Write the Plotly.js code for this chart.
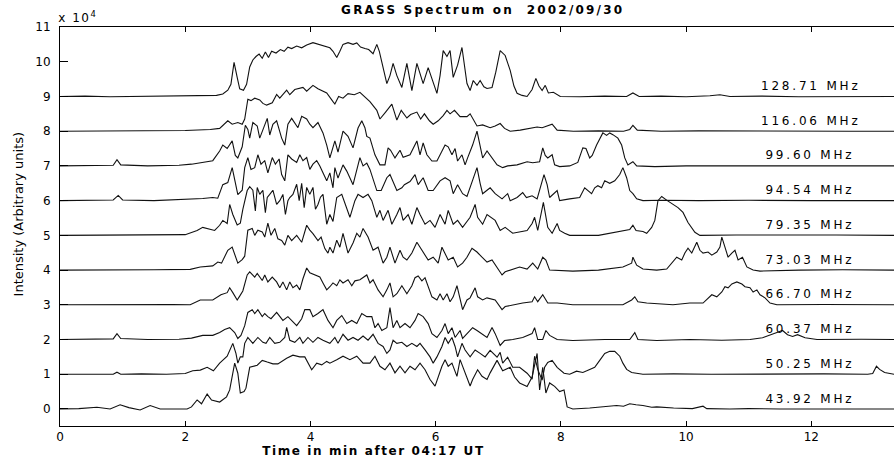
<!DOCTYPE html>
<html>
<head>
<meta charset="utf-8">
<script src="https://cdn.plot.ly/plotly-3.0.1.min.js"></script>
<style>html,body{margin:0;padding:0;background:#fff;}#chart{width:894px;height:459px;}</style>
</head>
<body>
<div id="chart"></div>
<script>
// Frequency channel labels (bottom to top) and their vertical offsets (x 10^4)
const channelLabels = ['43.92 MHz', '50.25 MHz', '60.37 MHz', '66.70 MHz', '73.03 MHz',
                       '79.35 MHz', '94.54 MHz', '99.60 MHz', '116.06 MHz', '128.71 MHz'];
const channelOffsets = [0, 1, 2, 3, 4, 5, 6, 7, 8, 9];

// Time (min after 04:17 UT) and intensity above baseline (x 10^4) per channel
const time4392 = [0,0.3,0.59,0.8,0.96,1.1,1.28,1.44,1.6,1.85,2.03,2.1,2.19,2.26,2.35,2.42,2.55,2.66,2.71,2.79,2.84,2.88,2.94,2.97,3.03,3.15,3.23,3.31,3.4,3.48,3.56,3.62,3.72,3.83,3.91,3.96,4.02,4.1,4.18,4.26,4.31,4.42,4.52,4.63,4.74,4.84,4.95,5.03,5.11,5.19,5.27,5.35,5.43,5.51,5.59,5.67,5.75,5.83,5.91,5.99,6.04,6.1,6.15,6.2,6.26,6.34,6.39,6.43,6.5,6.55,6.59,6.67,6.74,6.82,6.87,6.98,7.07,7.19,7.26,7.34,7.46,7.54,7.62,7.66,7.71,7.76,7.82,7.9,7.98,8.05,8.1,8.19,8.46,8.67,8.89,9.0,9.1,9.2,9.31,9.45,9.53,9.8,10.1,10.27,10.33,10.7,11.0,11.5,12.0,12.6,13.32];
const int4392 = [0,0.01,0.05,0.0,0.12,0.04,-0.03,0.1,0.0,0.01,0.0,0.06,0.26,0.15,0.43,0.26,0.2,0.35,0.55,1.32,1.03,0.46,0.5,0.6,1.2,1.26,1.4,1.35,1.3,1.3,1.4,1.46,1.55,1.5,1.5,1.32,1.13,1.32,1.27,1.37,1.32,1.42,1.52,1.42,1.52,1.32,1.32,1.52,1.23,1.13,1.32,1.04,1.23,1.04,1.23,1.13,1.32,1.13,0.85,0.66,0.94,1.23,1.42,1.23,1.32,0.94,1.42,1.23,0.85,0.66,0.85,1.13,0.94,0.85,1.04,1.4,1.1,1.2,0.92,0.75,0.65,0.92,1.6,0.55,1.2,0.46,0.75,0.65,0.5,0.55,0.06,0.0,0.03,0.06,0.1,0.08,0.15,0.12,0.1,0.05,0.06,0.03,0.01,0.08,0.01,0.0,0.01,0.0,0.01,0.0,0.0];

const time5025 = [0,0.4,0.85,0.91,0.97,1.3,1.7,2.0,2.12,2.24,2.35,2.45,2.55,2.67,2.72,2.76,2.81,2.84,2.88,2.92,2.95,3.0,3.08,3.16,3.24,3.29,3.35,3.43,3.51,3.59,3.62,3.67,3.75,3.83,3.88,3.96,4.04,4.12,4.2,4.31,4.39,4.44,4.52,4.6,4.68,4.76,4.84,4.92,5.0,5.08,5.16,5.22,5.27,5.32,5.38,5.46,5.54,5.62,5.7,5.75,5.83,5.91,5.96,6.02,6.1,6.15,6.2,6.26,6.31,6.35,6.42,6.47,6.55,6.63,6.71,6.79,6.87,6.98,7.03,7.07,7.15,7.23,7.34,7.46,7.54,7.58,7.63,7.7,7.74,7.79,7.86,7.94,8.05,8.14,8.25,8.35,8.46,8.54,8.62,8.7,8.78,8.86,8.94,8.99,9.05,9.13,9.31,9.8,10.4,11.0,11.6,12.2,12.9,12.98,13.04,13.09,13.17,13.32];
const int5025 = [0,0.01,0.0,0.06,0.0,0.01,0.0,0.02,0.1,0.12,0.2,0.1,0.32,0.52,0.7,0.89,0.6,0.32,0.5,0.5,0.89,1.06,0.89,1.06,0.92,0.89,1.06,0.89,0.92,1.06,1.35,0.98,0.92,1.06,0.89,1.06,0.92,1.06,0.98,0.89,1.06,0.89,1.15,0.98,1.06,0.98,1.1,0.98,1.15,0.89,0.8,0.6,0.7,0.98,0.89,0.92,0.8,0.89,0.8,0.89,0.7,0.5,0.32,0.5,0.8,1.06,0.89,1.06,0.8,0.5,0.89,0.7,0.5,0.7,0.6,0.5,0.69,0.49,0.63,0.32,0.49,0.2,0.2,0.03,-0.14,0.52,0.14,-0.17,0.2,0.34,0.4,0.2,0.03,0.0,0.09,0.05,0.14,0.2,0.4,0.6,0.66,0.66,0.52,0.32,0.14,0.05,0.0,0.01,0.0,0.01,0.0,0.01,0.0,0.02,0.23,0.14,0.05,0.0];

const time6037 = [0,0.4,0.85,0.91,0.97,1.4,1.9,2.1,2.28,2.44,2.55,2.63,2.71,2.79,2.84,2.89,2.95,3.0,3.07,3.11,3.16,3.23,3.27,3.32,3.37,3.46,3.51,3.56,3.64,3.72,3.78,3.86,3.91,3.99,4.04,4.12,4.2,4.28,4.36,4.42,4.5,4.58,4.66,4.74,4.82,4.9,4.98,5.03,5.08,5.14,5.22,5.27,5.32,5.38,5.43,5.51,5.59,5.67,5.72,5.8,5.88,5.94,6.02,6.1,6.15,6.2,6.26,6.31,6.39,6.43,6.51,6.59,6.66,6.74,6.82,6.9,6.95,7.03,7.1,7.23,7.39,7.54,7.58,7.63,7.71,7.76,7.82,7.94,8.19,8.7,9.1,9.18,9.23,9.53,10.06,10.57,11.02,11.22,11.34,11.45,11.54,11.62,11.7,11.78,11.9,12.09,12.8,13.32];
const int6037 = [0,0.01,0.02,0.17,0.03,0.0,0.01,0.04,0.12,0.12,0.2,0.29,0.34,0.2,0.03,0.12,0.4,0.78,0.86,0.75,0.86,0.66,0.75,0.66,0.6,0.78,0.66,0.55,0.66,0.52,0.4,0.6,0.86,0.86,0.66,0.75,0.86,0.55,0.34,0.55,0.69,0.46,0.55,0.46,0.75,0.66,0.66,0.34,0.46,0.26,0.34,0.92,0.34,0.55,0.34,0.46,0.34,0.55,0.75,0.66,0.46,0.17,0.06,0.26,0.46,0.17,0.34,0.06,0.26,0.03,0.17,0.34,0.26,0.17,0.06,0.35,0.17,-0.17,-0.03,0.0,0.06,0.17,0.34,0.0,0.0,0.26,0.12,0.0,-0.03,0.0,0.0,0.2,0.0,-0.03,0.0,-0.02,0.0,0.05,0.14,0.2,0.26,0.14,0.09,0.14,0.05,0.0,0.01,0.0];

const time6670 = [0,0.6,1.2,1.8,2.08,2.24,2.44,2.57,2.67,2.71,2.76,2.83,2.87,2.92,2.99,3.03,3.11,3.15,3.23,3.27,3.32,3.39,3.46,3.51,3.56,3.62,3.67,3.72,3.78,3.83,3.88,3.94,3.99,4.07,4.15,4.2,4.26,4.31,4.36,4.42,4.47,4.52,4.6,4.66,4.71,4.79,4.84,4.9,4.95,5.0,5.08,5.16,5.22,5.27,5.32,5.38,5.46,5.54,5.62,5.67,5.72,5.78,5.83,5.88,5.94,6.02,6.07,6.12,6.18,6.23,6.28,6.34,6.39,6.43,6.5,6.55,6.63,6.67,6.75,6.82,6.95,7.06,7.11,7.23,7.39,7.54,7.58,7.63,7.71,7.79,7.94,8.19,8.7,8.99,9.13,9.18,9.23,9.37,9.79,10.06,10.27,10.35,10.41,10.49,10.57,10.62,10.67,10.73,10.81,10.89,10.94,11.02,11.07,11.13,11.18,11.26,11.34,11.45,12.2,13.32];
const int6670 = [0,0.01,0.0,0.01,0.0,0.14,0.14,0.29,0.35,0.49,0.35,0.14,0.25,0.4,0.86,0.95,0.8,0.9,0.7,0.86,0.66,0.8,0.66,0.49,0.66,0.43,0.66,0.49,0.57,0.43,0.75,1.06,0.92,0.86,0.8,0.63,0.43,0.52,0.63,0.55,0.72,0.63,0.72,0.55,0.69,0.72,0.78,0.86,0.63,0.72,0.43,0.23,0.43,0.63,0.23,0.32,0.55,0.32,0.55,0.78,0.83,0.69,0.78,0.55,0.23,0.14,0.32,0.14,0.32,0.09,0.23,0.55,0.14,-0.14,0.14,0.2,0.49,0.23,0.14,0.2,0.14,-0.14,-0.05,0.0,0.05,0.09,0.23,0.09,0.29,0.05,0.05,0.0,0.0,0.0,0.14,0.23,0.09,0.05,0.0,0.05,0.05,0.2,0.29,0.23,0.37,0.52,0.49,0.6,0.66,0.6,0.52,0.49,0.37,0.43,0.29,0.2,0.05,0.0,0.01,0.0];

const time7303 = [0,0.5,1.0,1.5,2.08,2.24,2.44,2.52,2.58,2.68,2.75,2.79,2.84,2.91,2.95,3.0,3.07,3.11,3.16,3.23,3.27,3.32,3.37,3.43,3.48,3.54,3.59,3.64,3.7,3.78,3.86,3.94,3.99,4.04,4.12,4.17,4.23,4.28,4.31,4.36,4.42,4.47,4.52,4.6,4.68,4.74,4.79,4.84,4.92,5.0,5.08,5.16,5.22,5.27,5.35,5.43,5.48,5.54,5.62,5.7,5.75,5.8,5.88,5.96,6.04,6.1,6.15,6.2,6.28,6.35,6.43,6.5,6.58,6.66,6.74,6.82,6.9,6.98,7.06,7.11,7.23,7.34,7.46,7.55,7.63,7.71,7.76,7.82,8.19,8.6,8.99,9.13,9.15,9.21,9.31,9.53,9.69,9.77,9.85,9.93,9.98,10.03,10.09,10.17,10.22,10.27,10.35,10.41,10.49,10.54,10.57,10.62,10.67,10.73,10.78,10.83,10.9,10.97,11.07,11.18,11.8,12.5,13.32];
const int7303 = [0,0.01,0.0,0.01,0.02,0.09,0.12,0.23,0.2,0.57,0.66,0.45,0.2,0.3,0.4,1.15,1.2,1.0,1.15,1.1,0.95,1.35,1.0,1.2,0.9,0.85,0.72,1.0,0.85,1.0,0.8,1.29,1.15,1.05,0.85,0.95,0.62,0.49,0.66,0.49,0.86,0.66,1.06,0.49,0.78,1.06,0.95,1.2,0.95,0.57,0.66,0.2,0.37,0.66,0.2,0.57,0.37,0.29,0.49,0.8,0.66,0.52,0.29,0.37,0.2,0.66,0.49,0.29,0.37,0.09,0.2,0.37,0.63,0.52,0.37,0.23,0.29,0.09,-0.14,-0.05,0.03,0.09,0.03,0.2,0.03,0.37,0.29,0.0,-0.03,0.0,0.09,0.2,0.37,0.14,0.03,0.0,0.03,0.2,0.37,0.29,0.49,0.63,0.49,0.8,0.57,0.49,0.52,0.43,0.52,0.66,0.95,0.66,0.37,0.49,0.57,0.29,0.37,0.09,0.0,-0.03,0.0,0.01,0.0];

const time7935 = [0,0.5,1.0,1.5,2.0,2.19,2.28,2.47,2.55,2.6,2.67,2.71,2.76,2.83,2.88,2.92,2.99,3.03,3.08,3.12,3.15,3.19,3.24,3.28,3.31,3.35,3.4,3.46,3.51,3.56,3.6,3.64,3.67,3.72,3.78,3.82,3.86,3.9,3.94,3.99,4.04,4.08,4.12,4.16,4.2,4.26,4.31,4.36,4.42,4.5,4.58,4.63,4.71,4.76,4.84,4.92,4.98,5.06,5.11,5.16,5.24,5.3,5.38,5.43,5.48,5.56,5.62,5.7,5.75,5.83,5.91,5.99,6.07,6.15,6.2,6.28,6.35,6.43,6.55,6.63,6.67,6.75,6.82,6.95,7.03,7.11,7.23,7.34,7.46,7.54,7.58,7.63,7.72,7.79,7.86,7.94,7.98,8.06,8.14,8.6,8.99,9.1,9.15,9.2,9.31,9.37,9.45,9.5,9.55,9.61,9.7,9.78,9.87,9.95,10.03,10.14,10.22,10.8,11.6,12.4,13.32];
const int7935 = [0,0.01,0.0,0.01,0.02,0.14,0.23,0.14,0.29,0.43,0.34,0.89,0.6,0.3,0.35,0.75,1.29,1.4,1.3,0.7,1.38,1.18,1.3,0.65,1.09,1.18,1.3,0.89,1.0,1.18,0.6,1.0,1.09,1.18,1.47,1.0,1.5,0.8,1.38,1.18,1.38,0.75,0.89,1.1,1.18,0.32,0.6,0.4,1.09,1.18,0.8,0.52,1.0,1.18,1.09,1.18,1.0,0.52,0.72,0.43,0.72,0.32,0.6,0.8,0.43,0.6,0.32,0.8,0.6,0.32,0.43,0.23,0.6,0.32,0.72,0.32,0.43,0.23,0.52,0.89,0.52,0.32,0.6,0.43,0.14,0.23,0.06,0.09,0.14,0.34,0.52,0.14,0.95,0.23,0.06,0.34,0.14,0.06,0.0,0.0,0.14,0.17,0.29,0.14,0.11,0.06,0.23,0.43,1.0,1.12,1.0,0.9,0.8,0.66,0.37,0.09,0.0,0.01,0.0,0.01,0.0];

const time9454 = [0,0.5,0.85,0.93,1.0,1.5,2.08,2.28,2.44,2.52,2.6,2.68,2.75,2.79,2.84,2.91,2.95,3.0,3.05,3.11,3.16,3.21,3.27,3.32,3.39,3.44,3.5,3.54,3.59,3.64,3.7,3.78,3.83,3.88,3.94,3.99,4.04,4.1,4.15,4.2,4.26,4.31,4.36,4.39,4.44,4.52,4.58,4.68,4.79,4.84,4.9,4.95,5.0,5.06,5.13,5.22,5.27,5.32,5.38,5.46,5.5,5.59,5.67,5.72,5.8,5.88,5.96,6.07,6.15,6.23,6.28,6.35,6.43,6.5,6.59,6.66,6.71,6.75,6.82,6.87,6.95,7.06,7.15,7.19,7.3,7.39,7.45,7.54,7.62,7.7,7.73,7.78,7.82,7.94,7.98,8.14,8.3,8.38,8.44,8.49,8.54,8.59,8.65,8.7,8.78,8.86,8.94,8.99,9.05,9.1,9.15,9.21,9.31,9.6,10.2,11.0,12.0,13.32];
const int9454 = [0,0.01,0.02,0.15,0.02,0.0,0.03,0.06,0.09,0.07,0.46,0.52,0.95,0.55,0.17,0.3,0.95,1.24,0.9,0.95,1.32,1.05,1.15,0.8,1.24,1.05,1.2,0.75,0.57,1.32,1.2,1.1,1.32,1.15,1.24,0.9,1.05,1.15,1.0,0.8,0.57,0.8,0.37,0.95,0.65,1.03,0.85,0.46,1.24,1.0,1.08,0.9,0.6,0.29,0.29,0.66,0.75,0.55,0.29,0.37,0.46,0.55,0.75,0.46,0.66,0.29,0.29,0.57,0.66,0.57,0.2,0.46,0.2,0.12,0.57,0.95,0.5,0.2,0.3,0.37,0.2,0.05,0.2,0.0,0.09,0.23,0.09,0.14,0.05,0.57,0.75,0.46,0.09,0.29,0.0,0.05,0.09,0.37,0.29,0.2,0.37,0.43,0.37,0.57,0.5,0.57,0.75,0.95,0.66,0.29,0.2,0.05,0.0,0.01,0.0,0.01,0.0,0.0];

const time9960 = [0,0.5,0.85,0.91,0.97,1.4,1.9,2.1,2.28,2.44,2.55,2.6,2.67,2.75,2.8,2.84,2.91,2.96,3.0,3.03,3.08,3.15,3.19,3.24,3.31,3.35,3.4,3.46,3.54,3.59,3.64,3.7,3.76,3.8,3.86,3.94,3.99,4.04,4.12,4.2,4.26,4.31,4.39,4.44,4.52,4.6,4.68,4.76,4.82,4.87,4.9,4.95,5.03,5.11,5.19,5.24,5.28,5.35,5.43,5.48,5.59,5.64,5.7,5.75,5.8,5.86,5.94,6.02,6.1,6.15,6.2,6.26,6.31,6.35,6.42,6.47,6.51,6.59,6.66,6.71,6.75,6.82,6.9,6.98,7.07,7.15,7.3,7.39,7.46,7.55,7.66,7.71,7.75,7.79,7.86,7.9,7.98,8.14,8.27,8.35,8.4,8.46,8.5,8.57,8.62,8.67,8.73,8.78,8.83,8.91,8.97,9.02,9.07,9.15,9.21,9.5,10.0,11.0,12.0,13.32];
const int9960 = [0,0.01,0.02,0.18,0.03,0.0,0.02,0.05,0.1,0.15,0.43,0.6,0.5,0.72,0.3,0.23,0.55,1.17,1.05,0.8,1.25,1.15,0.8,1.05,1.37,0.89,1.2,1.3,0.8,0.6,1.2,1.37,1.2,1.1,1.43,1.35,1.2,1.1,1.25,0.95,0.6,0.23,0.72,0.4,1.0,0.85,0.52,1.09,1.3,1.1,0.85,0.8,0.32,0.03,0.03,0.52,0.45,0.23,0.45,0.25,0.32,0.52,0.72,0.32,0.66,0.32,0.14,0.14,0.43,0.6,0.55,0.32,0.5,0.14,0.32,0.03,0.23,0.6,1.0,0.52,0.23,0.43,0.23,0.03,-0.05,0.0,0.03,0.09,0.12,0.09,0.12,0.52,0.3,0.23,0.32,0.03,-0.02,0.0,0.1,0.52,0.5,0.23,0.3,0.6,0.8,0.95,0.88,0.95,0.9,0.8,0.6,0.23,0.03,0.12,0.0,-0.02,0.0,0.01,0.0,0.0];

const time11606 = [0,0.5,1.0,1.5,2.0,2.4,2.55,2.68,2.75,2.84,2.91,2.95,3.0,3.05,3.11,3.19,3.24,3.3,3.39,3.46,3.51,3.62,3.67,3.75,3.88,3.94,4.04,4.12,4.26,4.36,4.39,4.45,4.52,4.6,4.7,4.79,4.86,4.95,5.06,5.11,5.2,5.3,5.38,5.45,5.54,5.6,5.7,5.76,5.82,5.9,5.96,6.04,6.12,6.18,6.23,6.3,6.39,6.5,6.55,6.66,6.75,6.87,6.95,7.03,7.1,7.19,7.35,7.62,7.7,7.86,7.94,8.2,8.6,9.0,9.1,9.15,9.22,9.6,10.2,11.0,11.8,12.6,13.32];
const int11606 = [0,0.01,0.0,0.01,0.02,0.05,0.08,0.3,0.2,0.25,0.2,0.35,0.92,0.88,0.95,0.9,0.8,0.75,0.82,1.06,0.95,1.18,1.05,1.2,1.26,1.15,1.32,1.22,1.1,0.85,0.78,1.0,0.95,1.08,1.05,1.12,1.0,0.85,0.6,0.35,0.55,0.78,0.32,0.6,0.38,0.48,0.55,0.35,0.5,0.3,0.2,0.3,0.45,0.6,0.5,0.6,0.42,0.42,0.5,0.15,0.18,0.1,0.15,0.22,0.08,0.0,0.03,0.12,0.1,0.2,0.03,0.0,0.01,0.0,0.05,0.17,0.03,0.0,0.01,0.0,0.01,0.0,0.0];

const time12871 = [0,0.4,0.8,1.2,1.6,2.0,2.3,2.5,2.6,2.68,2.73,2.78,2.83,2.87,2.93,2.98,3.03,3.08,3.13,3.18,3.23,3.28,3.33,3.38,3.45,3.52,3.58,3.64,3.7,3.78,3.86,3.94,4.04,4.12,4.2,4.26,4.31,4.36,4.42,4.47,4.52,4.6,4.68,4.74,4.8,4.87,4.93,5.0,5.06,5.1,5.16,5.22,5.27,5.32,5.38,5.46,5.54,5.58,5.62,5.7,5.76,5.8,5.88,5.95,6.02,6.07,6.12,6.18,6.23,6.28,6.35,6.42,6.47,6.5,6.55,6.6,6.66,6.71,6.77,6.82,6.9,6.96,7.03,7.11,7.19,7.25,7.3,7.38,7.46,7.54,7.6,7.65,7.7,7.75,7.8,7.88,7.99,8.3,8.7,9.05,9.15,9.25,9.6,10.0,10.38,10.54,10.7,11.2,11.8,12.4,13.0,13.32];
const int12871 = [0,0.01,-0.01,0.0,-0.01,0.01,0.02,0.03,0.07,0.18,0.35,0.98,0.55,0.22,0.18,0.35,0.85,1.05,1.15,1.22,1.1,1.28,1.12,1.3,1.25,1.35,1.3,1.42,1.38,1.45,1.4,1.48,1.55,1.5,1.47,1.42,1.4,1.3,1.12,1.3,1.5,1.55,1.5,1.54,1.42,1.38,1.35,1.23,1.5,1.3,0.8,0.37,0.6,0.95,0.6,0.26,0.95,0.6,0.17,0.95,0.6,0.37,0.83,0.45,0.09,0.6,1.32,1.15,1.32,0.55,0.9,1.41,0.8,0.37,0.17,0.46,0.32,0.46,0.28,0.23,0.26,0.7,1.32,1.18,0.75,0.3,0.09,0.03,0.0,0.2,0.52,0.3,0.17,0.32,0.1,0.12,0.0,-0.01,0.01,0.0,0.1,0.0,0.01,-0.01,0.02,0.05,0.0,0.01,-0.01,0.0,0.01,0.0];

// Axis tick values
const xTicks = [0, 2, 4, 6, 8, 10, 12];
const yTicks = [0, 1, 2, 3, 4, 5, 6, 7, 8, 9, 10, 11];

const channelTimes = [time4392, time5025, time6037, time6670, time7303, time7935, time9454, time9960, time11606, time12871];
const channelInts  = [int4392, int5025, int6037, int6670, int7303, int7935, int9454, int9960, int11606, int12871];

const FONT = 'DejaVu Sans, Arial, sans-serif';

const traces = channelTimes.map((t, k) => ({
  type: 'scatter', mode: 'lines',
  x: t,
  y: channelInts[k].map(v => v + channelOffsets[k]),
  line: {color: '#111', width: 1.1},
  hoverinfo: 'skip', showlegend: false
}));

const annotations = [
  {text: 'GRASS Spectrum on  2002/09/30', xref: 'paper', yref: 'paper', x: 0.507, y: 1.0426,
   xanchor: 'center', yanchor: 'middle', showarrow: false,
   font: {family: FONT, size: 12, color: '#000', weight: 'bold'}},
  {text: 'Time in min after 04:17 UT', xref: 'paper', yref: 'paper', x: 0.3765, y: -0.062,
   xanchor: 'center', yanchor: 'middle', showarrow: false,
   font: {family: FONT, size: 12, color: '#000', weight: 'bold'}},
  {text: 'Intensity (Arbitrary units)', xref: 'paper', yref: 'paper', x: -0.05, y: 0.531,
   xanchor: 'center', yanchor: 'middle', textangle: -90, showarrow: false,
   font: {family: FONT, size: 13, color: '#000'}},
  {text: 'x 10<sup>4</sup>', xref: 'paper', yref: 'paper', x: 0, y: 1.025,
   xanchor: 'left', yanchor: 'middle', showarrow: false,
   font: {family: FONT, size: 12, color: '#000'}}
];
channelLabels.forEach((lab, k) => {
  annotations.push({text: lab, xref: 'x', yref: 'y', x: 11.98, y: channelOffsets[k] + 0.3,
    xanchor: 'center', yanchor: 'middle', showarrow: false,
    font: {family: FONT, size: 12, color: '#000'}});
});
const spacing = [2.2, 1.6, 0, 1.5, 2.8, 2.8, 2.8, 2.8, 2.8, 2.8, 2.8, 2.8, 2.8, 2.8];

const layout = {
  width: 894, height: 459,
  margin: {l: 60, r: 0, t: 27, b: 33, pad: 0},
  paper_bgcolor: '#fff', plot_bgcolor: '#fff',
  showlegend: false,
  xaxis: {range: [0, 13.32], tickvals: xTicks, ticktext: xTicks.map(String),
    ticks: 'inside', ticklen: 5, tickwidth: 1, tickcolor: '#000',
    showline: true, linecolor: '#000', linewidth: 1, mirror: 'ticks',
    showgrid: false, zeroline: false, ticklabelstandoff: 0,
    tickfont: {family: FONT, size: 12, color: '#000'}},
  yaxis: {range: [-0.49, 11], tickvals: yTicks, ticktext: yTicks.map(String),
    ticks: 'inside', ticklen: 8, tickwidth: 1, tickcolor: '#000',
    showline: true, linecolor: '#000', linewidth: 1, mirror: false,
    showgrid: false, zeroline: false, ticklabelstandoff: 6,
    tickfont: {family: FONT, size: 12, color: '#000'}},
  annotations: annotations
};

Plotly.newPlot('chart', traces, layout, {staticPlot: true, displayModeBar: false}).then(() => {
  document.querySelectorAll('#chart .annotation').forEach(g => {
    const idx = +g.getAttribute('data-index');
    const txt = g.querySelector('text');
    if (txt && spacing[idx]) txt.style.letterSpacing = spacing[idx] + 'px';
  });
});
</script>
</body>
</html>
